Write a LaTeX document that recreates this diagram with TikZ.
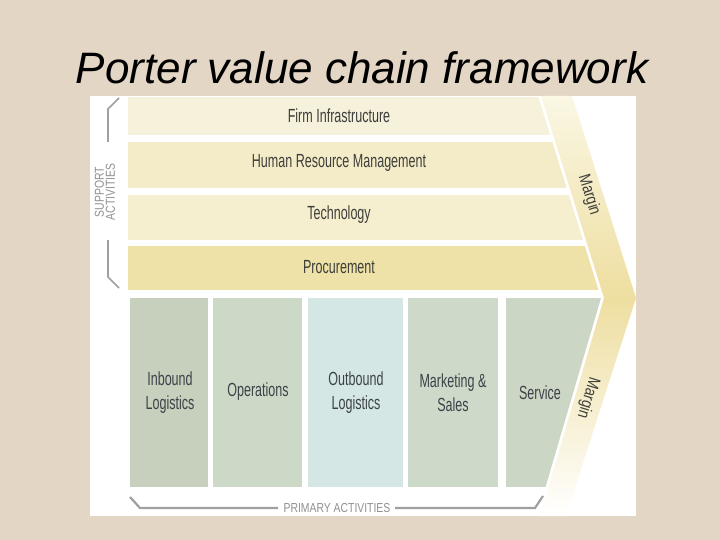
\documentclass[tikz,border=0pt]{standalone}
\usepackage{fontspec}
\setmainfont{Liberation Sans}
\newfontfamily\condf[FakeStretch=0.66]{Liberation Sans}
\newfontfamily\margf[FakeStretch=0.8]{Liberation Sans}
\definecolor{bg}{RGB}{228,214,197}
\definecolor{rowA}{RGB}{246,241,218}
\definecolor{rowB}{RGB}{244,236,200}
\definecolor{rowC}{RGB}{245,238,207}
\definecolor{rowD}{RGB}{238,226,168}
\definecolor{colA}{RGB}{199,207,189}
\definecolor{colB}{RGB}{204,217,199}
\definecolor{colC}{RGB}{212,231,229}
\definecolor{colD}{RGB}{205,218,201}
\definecolor{colE}{RGB}{204,214,196}
\definecolor{bandA}{RGB}{250,247,228}
\definecolor{bandB}{RGB}{238,222,160}
\definecolor{txt}{RGB}{62,62,58}
\definecolor{ptxt}{RGB}{60,66,72}
\definecolor{grayline}{RGB}{160,160,160}
\tikzset{
  rowlabel/.style={font=\condf\fontsize{19}{23}\selectfont, text=txt, inner sep=0pt},
  collabel/.style={font=\condf\fontsize{19}{24}\selectfont, text=ptxt, align=center, inner sep=0pt},
  marglabel/.style={font=\margf\fontsize{17}{19}\selectfont, text=txt, inner sep=0pt},
  smalllabel/.style={font=\margf\fontsize{13}{11}\selectfont, text=grayline!90!black, align=center, inner sep=0pt},
  bracket/.style={draw=grayline, line width=1.6pt}
}
\begin{document}
\begin{tikzpicture}[x=1pt,y=-1pt]
\useasboundingbox (0,0) rectangle (720,540);
\fill[bg] (0,0) rectangle (720,540);
\node[font=\fontsize{44}{50}\selectfont\itshape, anchor=base, inner sep=0pt] (title) at (362,84) {Porter value chain framework};
% picture area
\fill[white] (90,96) rectangle (636,516);
% margin band
\shade[top color=bandA, bottom color=bandB] (541,96) -- (572,96) -- (636,298) -- (604,298) -- cycle;
\shade[top color=bandB, bottom color=white] (604,298) -- (636,298) -- (566,516) -- (540,516) -- cycle;
% activities, clipped to the chevron
\begin{scope}
\clip (90,96) -- (538,96) -- (601,298) -- (537,516) -- (90,516) -- cycle;
\fill[rowA] (128,97) rectangle (620,135);
\fill[rowB] (128,142) rectangle (620,188);
\fill[rowC] (128,195) rectangle (620,240);
\fill[rowD] (128,246) rectangle (620,290);
\fill[colA] (130,298) rectangle (208,487);
\fill[colB] (213,298) rectangle (302,487);
\fill[colC] (308,298) rectangle (403,487);
\fill[colD] (408,298) rectangle (498,487);
\fill[colE] (506,298) rectangle (620,487);
\end{scope}
% labels
\node[rowlabel] (firm) at (339,116) {Firm Infrastructure};
\node[rowlabel] (hrm) at (339,163) {Human Resource Management};
\node[rowlabel] (tech) at (339,215) {Technology};
\node[rowlabel] (proc) at (339,267) {Procurement};
\node[collabel] (inb) at (170,393) {Inbound\\Logistics};
\node[collabel] (ops) at (258,392) {Operations};
\node[collabel] (outb) at (356,393) {Outbound\\Logistics};
\node[collabel] (mkt) at (453,393) {Marketing \&\\Sales};
\node[collabel] (svc) at (540,393) {Service};
\node[marglabel, rotate=-73] (m1) at (589,195) {Margin};
\node[marglabel, rotate=-107] (m2) at (588,398) {Margin};
% support bracket
\node[smalllabel, rotate=90] (sup) at (105,192) {SUPPORT\\ACTIVITIES};
\coordinate (s1) at (119,98);
\coordinate (s2) at (108,109);
\coordinate (s3) at (108,142);
\coordinate (s4) at (108,240);
\coordinate (s5) at (108,277);
\coordinate (s6) at (119,288);
\draw[bracket] (s1) -- (s2) -- (s3);
\draw[bracket] (s4) -- (s5) -- (s6);
% primary bracket
\node[smalllabel] (prim) at (337,508) {PRIMARY ACTIVITIES};
\coordinate (p1) at (130,497);
\coordinate (p2) at (140,508);
\coordinate (p3) at (278,508);
\coordinate (p4) at (395,508);
\coordinate (p5) at (535,508);
\coordinate (p6) at (543,496);
\draw[bracket, line width=2.2pt] (p1) -- (p2) -- (p3);
\draw[bracket, line width=2.2pt] (p4) -- (p5) -- (p6);
\end{tikzpicture}
\end{document}
